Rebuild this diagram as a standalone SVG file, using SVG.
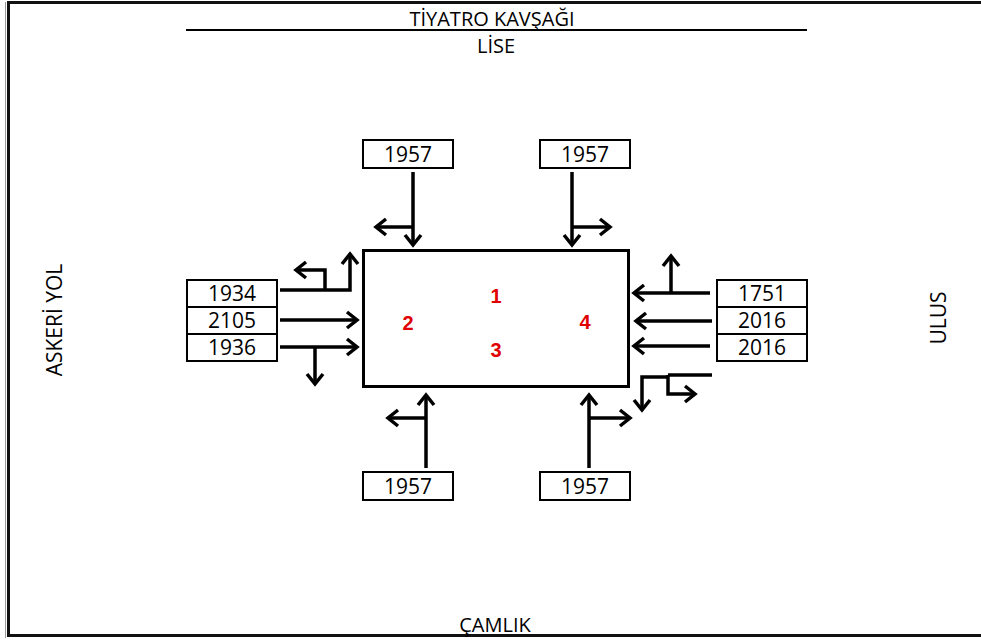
<svg xmlns="http://www.w3.org/2000/svg" width="981" height="643" viewBox="0 0 981 643">
  <defs>
    <marker id="open-arrow" markerUnits="userSpaceOnUse" markerWidth="24" markerHeight="24" viewBox="-14 -12 18 24" refX="0" refY="0" orient="auto">
      <path d="M-10,-8 L0,0 L-10,8" fill="none" stroke="#000" stroke-width="3.5" stroke-linejoin="miter"/>
    </marker>
    <style>
      .lbl { font-family: "Open Sans", "Noto Sans", "Liberation Sans", sans-serif; font-size: 20px; fill: #000; }
      .side { font-size: 21px; }
      .num { font-family: "Open Sans", "Noto Sans", "Liberation Sans", sans-serif; font-size: 21px; fill: #000; text-anchor: middle; }
      .phase { font-family: "Liberation Sans", "Noto Sans", sans-serif; font-size: 20px; font-weight: bold; fill: #e00000; text-anchor: middle; }
      .box { fill: #fff; stroke: #000; stroke-width: 2; }
      .flow { fill: none; stroke: #000; stroke-width: 3.5; }
      .tip { marker-end: url(#open-arrow); }
    </style>
  </defs>

  <rect width="981" height="643" fill="#fff"/>
  <!-- page frame -->
  <rect x="8.5" y="2.5" width="990" height="633" fill="none" stroke="#111" stroke-width="3"/>
  <line x1="5.5" y1="2" x2="5.5" y2="638" stroke="#999" stroke-width="1"/>

  <!-- titles and approach names -->
  <g id="title">
    <text class="lbl" x="492" y="26" text-anchor="middle">TİYATRO KAVŞAĞI</text>
    <line x1="186" y1="30" x2="807" y2="30" stroke="#000" stroke-width="2"/>
    <text class="lbl" x="496" y="53" text-anchor="middle">LİSE</text>
  </g>
  <g id="west-name"><text class="lbl side" transform="translate(62,320) rotate(-90)" text-anchor="middle">ASKERİ YOL</text></g>
  <g id="east-name"><text class="lbl side" transform="translate(946,318) rotate(-90)" text-anchor="middle">ULUS</text></g>
  <g id="south-name"><text class="lbl" x="495" y="632" text-anchor="middle">ÇAMLIK</text></g>

  <!-- junction -->
  <g id="junction">
    <rect x="363.5" y="250.5" width="265" height="136" fill="#fff" stroke="#000" stroke-width="3"/>
    <text class="phase" x="496" y="303">1</text>
    <text class="phase" x="408" y="330">2</text>
    <text class="phase" x="496" y="357">3</text>
    <text class="phase" x="585" y="329">4</text>
  </g>

  <!-- volume boxes -->
  <g id="north-left"><rect class="box" x="363" y="140" width="90" height="28"/><text class="num" x="408" y="162">1957</text></g>
  <g id="north-right"><rect class="box" x="540" y="140" width="90" height="28"/><text class="num" x="585" y="162">1957</text></g>
  <g id="south-left"><rect class="box" x="363" y="472" width="90" height="28"/><text class="num" x="408" y="494">1957</text></g>
  <g id="south-right"><rect class="box" x="540" y="472" width="90" height="28"/><text class="num" x="585" y="494">1957</text></g>
  <g id="west-1"><rect class="box" x="187" y="280" width="90" height="27"/><text class="num" x="232" y="301">1934</text></g>
  <g id="west-2"><rect class="box" x="187" y="307" width="90" height="27"/><text class="num" x="232" y="328">2105</text></g>
  <g id="west-3"><rect class="box" x="187" y="334" width="90" height="27"/><text class="num" x="232" y="355">1936</text></g>
  <g id="east-1"><rect class="box" x="717" y="280" width="90" height="27"/><text class="num" x="762" y="301">1751</text></g>
  <g id="east-2"><rect class="box" x="717" y="307" width="90" height="27"/><text class="num" x="762" y="328">2016</text></g>
  <g id="east-3"><rect class="box" x="717" y="334" width="90" height="27"/><text class="num" x="762" y="355">2016</text></g>

  <!-- turning movements -->
  <g id="connectors">
    <!-- north approach -->
    <path class="flow tip" d="M413,172 V245"/>
    <path class="flow tip" d="M413,227 H376"/>
    <path class="flow tip" d="M572,172 V245"/>
    <path class="flow tip" d="M572,227 H610"/>
    <!-- west approach -->
    <path class="flow tip" d="M280,290 H350 V254"/>
    <path class="flow tip" d="M325,290 V270 H296"/>
    <path class="flow tip" d="M280,320 H357" stroke-width="3"/>
    <path class="flow tip" d="M280,347 H357"/>
    <path class="flow tip" d="M315,347 V384"/>
    <!-- east approach -->
    <path class="flow tip" d="M710,293 H634"/>
    <path class="flow tip" d="M671,293 V256"/>
    <path class="flow tip" d="M712,321 H636"/>
    <path class="flow tip" d="M710,346 H634"/>
    <path class="flow" d="M712,375 H668" stroke-width="5"/>
    <path class="flow tip" d="M668,377 H642 V410"/>
    <path class="flow tip" d="M668,375 V394 H695"/>
    <!-- south approach -->
    <path class="flow tip" d="M426,468 V395"/>
    <path class="flow tip" d="M426,418 H388"/>
    <path class="flow tip" d="M589,468 V395"/>
    <path class="flow tip" d="M589,418 H630"/>
  </g>
</svg>
